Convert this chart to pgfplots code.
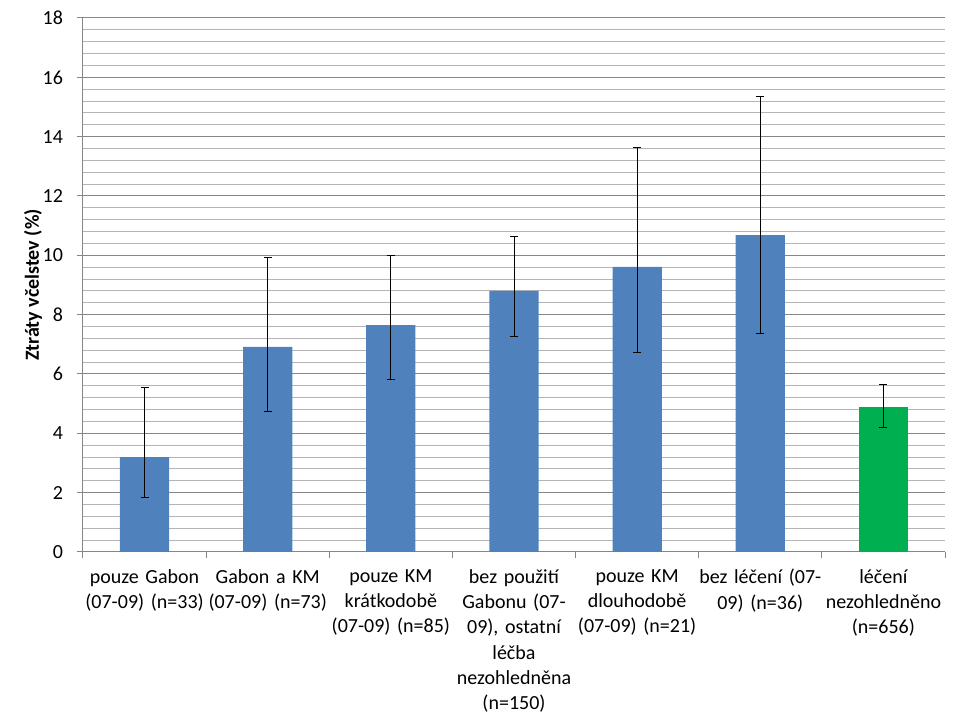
\documentclass[border=0pt]{standalone}
\usepackage{fontspec}
\setmainfont{Carlito}
\usepackage{pgfplots}
\usepackage{pgfplotstable}
\pgfplotsset{compat=1.18}
\definecolor{barblue}{RGB}{79,129,189}
\definecolor{bargreen}{RGB}{0,176,80}
\definecolor{axisgray}{RGB}{134,134,134}
\definecolor{gridmajor}{RGB}{134,134,134}
\definecolor{gridminor}{RGB}{180,180,180}
\pgfplotstableread{
x y ep em
0 3.20 2.33 1.35
1 6.91 3.03 2.16
2 7.65 2.33 1.82
3 8.80 1.85 1.52
4 9.61 4.01 2.90
5 10.68 4.69 3.32
}\bluedata
\pgfplotstableread{
x y ep em
6 4.89 0.77 0.68
}\greendata
\begin{document}
\begin{tikzpicture}
\path[use as bounding box] (-62.25pt,-126pt) rectangle (657.75pt,414pt);
\begin{axis}[
  at={(0,0)}, anchor=south west,
  scale only axis, width=646.5pt, height=400.5pt,
  xmin=-0.5, xmax=6.5, ymin=0, ymax=18,
  ytick={0,2,...,18}, minor y tick num=4,
  ymajorgrids, yminorgrids,
  major grid style={color=gridmajor, line width=0.75pt},
  minor grid style={color=gridminor, line width=0.75pt},
  axis x line*=bottom, axis y line*=left,
  axis line style={color=axisgray, line width=0.75pt},
  tick align=outside,
  major tick length=4.5pt, minor tick length=4.5pt,
  every major x tick/.style={draw=none},
  every minor y tick/.style={draw=none},
  every major y tick/.append style={color=axisgray, line width=0.75pt},
  every minor x tick/.append style={color=axisgray, line width=0.75pt},
  xtick={0,...,6},
  minor xtick={-0.5,0.5,...,6.5},
  xticklabels={
    {pouze Gabon\\(07-09) (n=33)},
    {Gabon a KM\\(07-09) (n=73)},
    {pouze KM\\krátkodobě\\(07-09) (n=85)},
    {bez použití\\Gabonu (07-\\09), ostatní\\léčba\\nezohledněna\\(n=150)},
    {pouze KM\\dlouhodobě\\(07-09) (n=21)},
    {bez léčení (07-\\09) (n=36)},
    {léčení\\nezohledněno\\(n=656)}},
  x tick label style={text width=95pt, align=center, anchor=north, yshift=-5pt,
    font=\fontsize{15}{19}\selectfont},
  y tick label style={font=\fontsize{15}{18}\selectfont, xshift=-7pt},
  /pgf/number format/assume math mode=true,
  ylabel={Ztráty včelstev (\%)},
  ylabel style={at={(axis description cs:-0.058,0.5)}, anchor=center,
    font=\bfseries\fontsize{15}{18}\selectfont},
  clip=false,
]
\addplot[ybar, bar width=0.4, bar shift=0pt, fill=barblue, draw=none,
  error bars/.cd, y dir=both, y explicit,
  error bar style={black, line width=0.75pt},
  error mark options={rotate=90, mark size=3pt, black, line width=0.75pt}]
  table[x=x, y=y, y error plus=ep, y error minus=em]{\bluedata};
\addplot[ybar, bar width=0.4, bar shift=0pt, fill=bargreen, draw=none,
  error bars/.cd, y dir=both, y explicit,
  error bar style={black, line width=0.75pt},
  error mark options={rotate=90, mark size=3pt, black, line width=0.75pt}]
  table[x=x, y=y, y error plus=ep, y error minus=em]{\greendata};
\end{axis}
\end{tikzpicture}
\end{document}
